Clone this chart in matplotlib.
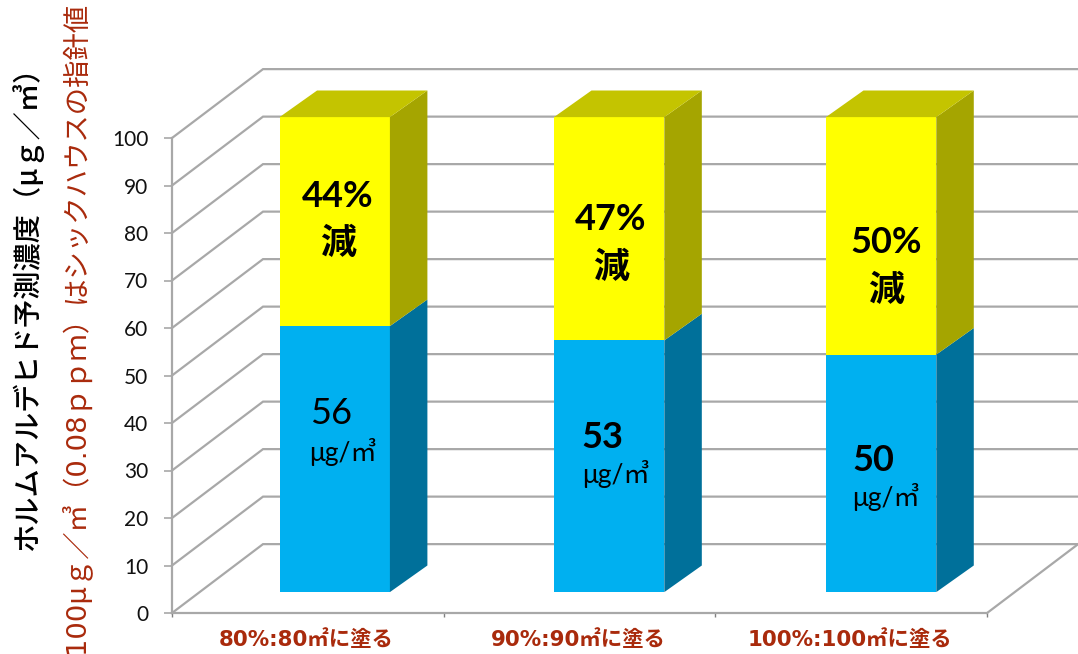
import matplotlib
matplotlib.use('Agg')
import numpy as np
import matplotlib.pyplot as plt
from matplotlib.patches import Polygon

categories = ['80%:80㎡に塗る', '90%:90㎡に塗る', '100%:100㎡に塗る']
concentration = [56, 53, 50]
reduction = [44, 47, 50]
y_ticks = [0, 10, 20, 30, 40, 50, 60, 70, 80, 90, 100]
title_black = 'ホルムアルデヒド予測濃度（μｇ／㎥）'
title_red = '100μｇ／㎥（0.08ｐｐｍ）はシックハウスの指針値'

# layout, in data units (1 category wide, 1 value high)
DEPTH_X, DEPTH_Y = 0.335, 14.5
BAR_BASE = 4.4
BAR_DX, BAR_DY = 0.138, 5.6
BAR_LEFT = [0.396, 1.406, 2.407]
BAR_WIDTH = 0.406
RED = '#A92A0C'
GRID = '#A8A8A8'
JP = ['Lato', 'Noto Sans CJK JP']
WIDE = ['DejaVu Sans', 'Noto Sans CJK JP']

# where the labels sit inside each bar
PCT_POS = [(0.61, 87.6, 77.8), (1.615, 82.8, 72.8), (2.63, 78.0, 67.9)]
NUM_POS = [(0.586, 42.0, 34.0), (1.585, 37.0, 29.2), (2.58, 32.2, 24.4)]
UNIT_X = [0.506, 1.511, 2.505]
NUM_WEIGHT = ['normal', 'bold', 'bold']

fig = plt.figure(figsize=(10.78, 6.54), dpi=100)
ax = fig.add_axes((0, 0, 1, 1))
ax.patch.set_visible(False)
px_x, px_y = 271.7, 4.75
ax.set_xlim(-172 / px_x, (1078 - 172) / px_x)
ax.set_ylim((613 - 654) / px_y, 613 / px_y)

# walls and floor
for v in y_ticks:
    ax.plot([0, DEPTH_X, 4], [v, v + DEPTH_Y, v + DEPTH_Y], color=GRID, lw=1.6, zorder=1,
            solid_joinstyle='miter')
ax.plot([3, 3 + DEPTH_X], [0, DEPTH_Y], color=GRID, lw=1.6, zorder=1)

# axis lines through the real spines and ticks
for name in ['top', 'right']:
    ax.spines[name].set_visible(False)
ax.spines['left'].set_position(('data', 0))
ax.spines['left'].set_bounds(0, 100)
ax.spines['bottom'].set_position(('data', 0))
ax.spines['bottom'].set_bounds(0, 3)
for name in ['left', 'bottom']:
    ax.spines[name].set_color(GRID)
    ax.spines[name].set_linewidth(1.6)
    ax.spines[name].set_zorder(2)
ax.set_yticks(y_ticks)
ax.set_yticklabels([str(v) for v in y_ticks], fontsize=15, family='Lato', color='#111111')
ax.tick_params(axis='y', length=6, width=1.2, color=GRID, pad=11)
ax.set_xticks([0, 1, 2, 3])
ax.set_xticklabels([])
ax.tick_params(axis='x', length=3, width=1, color='#808080')

for i, (low, high) in enumerate(zip(concentration, [c + r for c, r in zip(concentration, reduction)])):
    x0 = BAR_LEFT[i]
    x1 = x0 + BAR_WIDTH
    ax.bar(x0, low, width=BAR_WIDTH, bottom=BAR_BASE, align='edge', color='#00B0F0', zorder=4)
    ax.bar(x0, high - low, width=BAR_WIDTH, bottom=BAR_BASE + low, align='edge', color='#FFFF00', zorder=4)
    top = BAR_BASE + high
    mid = BAR_BASE + low
    ax.add_patch(Polygon([(x1, BAR_BASE), (x1 + BAR_DX, BAR_BASE + BAR_DY),
                          (x1 + BAR_DX, mid + BAR_DY), (x1, mid)], color='#00709A', lw=0, zorder=4))
    ax.add_patch(Polygon([(x1, mid), (x1 + BAR_DX, mid + BAR_DY),
                          (x1 + BAR_DX, top + BAR_DY), (x1, top)], color='#A5A500', lw=0, zorder=4))
    ax.add_patch(Polygon([(x0, top), (x0 + BAR_DX, top + BAR_DY),
                          (x1 + BAR_DX, top + BAR_DY), (x1, top)], color='#C4C400', lw=0, zorder=4))

    px, py, ky = PCT_POS[i]
    ax.text(px, py, f'{reduction[i]}%', ha='center', va='center', fontsize=26, fontweight='bold',
            family=JP, color='black', zorder=5)
    ax.text(px, ky, '減', ha='center', va='center', fontsize=26, fontweight='bold',
            family=JP, color='black', zorder=5)
    nx, ny, uy = NUM_POS[i]
    ax.text(nx, ny, str(concentration[i]), ha='center', va='center', fontsize=26,
            fontweight=NUM_WEIGHT[i], family=JP, color='black', zorder=5)
    ax.text(UNIT_X[i], uy, 'μg/㎥', ha='left', va='center', fontsize=19, family=JP,
            color='black', zorder=5)
    ax.text(i + 0.495, -5.5, categories[i], ha='center', va='center', fontsize=15.4,
            fontweight='bold', family=WIDE, color=RED)

ax.text(-0.533, 65.5, title_black, rotation=90, ha='center', va='center', fontsize=20.3,
        family=['Noto Sans CJK JP', 'DejaVu Sans'], fontweight='medium', color='black')
ax.text(-0.357, 60.2, title_red, rotation=90, ha='center', va='center', fontsize=19.7,
        family=WIDE, color=RED)

fig.savefig('out.png', dpi=100)
